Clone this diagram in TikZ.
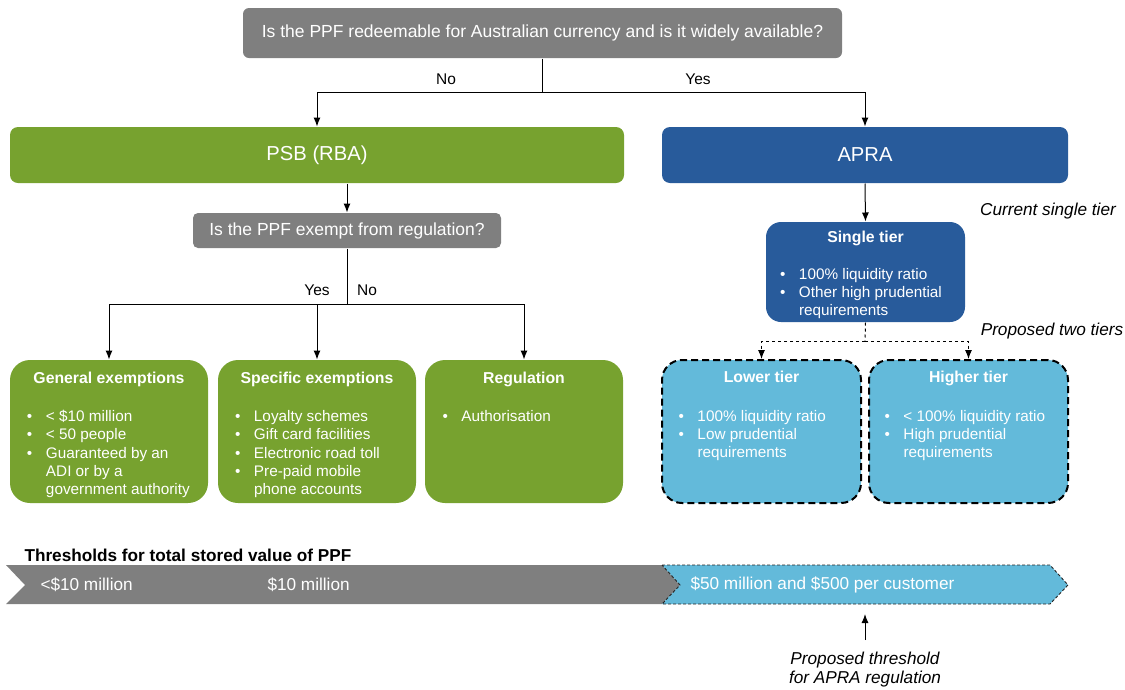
\documentclass[tikz,border=0pt]{standalone}
\usepackage{fontspec}
\setmainfont{Liberation Sans}
\usetikzlibrary{arrows.meta}

\definecolor{ppfgrey}{HTML}{7F7F7F}
\definecolor{ppfgreen}{HTML}{77A22F}
\definecolor{ppfblue}{HTML}{285B9B}
\definecolor{ppflight}{HTML}{63BADA}

% bullet and hanging indent for the lists (the rule fixes the height of a first line)
\newcommand\bul{\rule{0pt}{12.5pt}\makebox[19pt][l]{\textbullet}}
\newcommand\cont{\hspace*{19pt}}

\tikzset{
  box/.style={rounded corners=8pt, inner sep=0pt, text=white},
  qbox/.style={box, fill=ppfgrey, rounded corners=6pt, font=\fontsize{17.5}{21}\selectfont},
  bigbox/.style={box, minimum height=56pt, font=\fontsize{20.2}{24}\selectfont},
  card/.style={box, rounded corners=20pt, minimum width=198pt, minimum height=143pt},
  tiercard/.style={card, fill=ppflight, draw=black, line width=2pt, dash pattern=on 7pt off 4pt},
  head/.style={inner sep=0pt, text=white, anchor=base, font=\bfseries\fontsize{15.8}{18.3}\selectfont},
  list/.style={inner sep=0pt, text=white, anchor=north west, align=left, font=\fontsize{15.3}{18.3}\selectfont},
  lbl/.style={inner sep=0pt, font=\fontsize{15.5}{18}\selectfont},
  note/.style={inner sep=0pt, align=center, font=\itshape\fontsize{17.2}{19}\selectfont},
  bartext/.style={inner sep=0pt, text=white, anchor=west, font=\fontsize{17.2}{20}\selectfont}
}

\begin{document}
\begin{tikzpicture}[x=1pt, y=-1pt, line width=1pt, >={Latex[length=9pt,width=7pt]}]
  \useasboundingbox (0,0) rectangle (1125,689);

  % first question and the two regulators
  \node[qbox, minimum width=599pt, minimum height=50pt] (redeem) at (542.5,33)
      {Is the PPF redeemable for Australian currency and is it widely available?};
  \node[bigbox, fill=ppfgreen, minimum width=614pt] (psb) at (317,155) {PSB (RBA)};
  \node[bigbox, fill=ppfblue, minimum width=406pt] (apra) at (865,155) {APRA};

  \coordinate (fork1) at (542.5,92);
  \draw (redeem.south) -- (fork1);
  \draw[->] (fork1) -| (psb.north);
  \draw[->] (fork1) -| (apra.north);
  \node[lbl] (no1) at (446,79) {No};
  \node[lbl] (yes1) at (698,79) {Yes};

  % PSB side
  \node[qbox, rounded corners=5pt, minimum width=308pt, minimum height=35pt] (exempt) at (347,230.5)
      {Is the PPF exempt from regulation?};
  \draw[->] (psb.south -| exempt.north) -- (exempt.north);

  \node[card, fill=ppfgreen] (gen) at (109,431.5) {};
  \node[card, fill=ppfgreen] (spec) at (317,431.5) {};
  \node[card, fill=ppfgreen] (reg) at (524,431.5) {};

  \coordinate (fork2) at (347,304);
  \draw (exempt.south) -- (fork2);
  \foreach \b in {gen, spec, reg}
    \draw[->] (fork2) -| (\b.north);
  \node[lbl] (yes2) at (317,290) {Yes};
  \node[lbl] (no2) at (367,290) {No};

  \node[head] (genh) at ([yshift=-23.5pt]gen.north) {General exemptions};
  \node[list] (genl) at ([xshift=17pt,yshift=-49pt]gen.north west)
      {\bul < \$10 million\\ \bul < 50 people\\ \bul Guaranteed by an\\ \cont ADI or by a\\ \cont government authority};
  \node[head] (spech) at ([yshift=-23.5pt]spec.north) {Specific exemptions};
  \node[list] (specl) at ([xshift=17pt,yshift=-49pt]spec.north west)
      {\bul Loyalty schemes\\ \bul Gift card facilities\\ \bul Electronic road toll\\ \bul Pre-paid mobile\\ \cont phone accounts};
  \node[head] (regh) at ([yshift=-23.5pt]reg.north) {Regulation};
  \node[list] (regl) at ([xshift=17.5pt,yshift=-49pt]reg.north west) {\bul Authorisation};

  % APRA side
  \node[box, fill=ppfblue, rounded corners=15pt, minimum width=199pt, minimum height=100pt] (single) at (865.5,272) {};
  \draw[->] (apra.south) -- (single.north);
  \node[head] (singleh) at ([yshift=-20.5pt]single.north) {Single tier};
  \node[list] (singlel) at ([xshift=14pt,yshift=-44.5pt]single.north west)
      {\bul 100\% liquidity ratio\\ \bul Other high prudential\\ \cont requirements};
  \node[note] (current) at (1048,211) {Current single tier};

  \node[tiercard, minimum width=199pt] (lower) at (761.5,431.5) {};
  \node[tiercard, minimum width=199pt] (higher) at (968.5,431.5) {};
  \coordinate (fork3) at (865,341);
  \draw[dashed] (single.south) -- (fork3);
  \draw[dashed, ->] (fork3) -| (lower.north);
  \draw[dashed, ->] (fork3) -| (higher.north);
  \node[note] (proposed) at (1052,331) {Proposed two tiers};

  \node[head] (lowerh) at ([yshift=-23.5pt]lower.north) {Lower tier};
  \node[list] (lowerl) at ([xshift=17pt,yshift=-49pt]lower.north west)
      {\bul 100\% liquidity ratio\\ \bul Low prudential\\ \cont requirements};
  \node[head] (higherh) at ([yshift=-23.5pt]higher.north) {Higher tier};
  \node[list] (higherl) at ([xshift=16pt,yshift=-49pt]higher.north west)
      {\bul < 100\% liquidity ratio\\ \bul High prudential\\ \cont requirements};

  % stored value bar
  \node[inner sep=0pt, anchor=west, font=\bfseries\fontsize{17.2}{20}\selectfont] (bartitle) at (24,555)
      {Thresholds for total stored value of PPF};
  \fill[ppfgrey] (6,565) -- (662,565) -- (680,585) -- (662,604) -- (6,604) -- (25,585) -- cycle;
  \filldraw[fill=ppflight, draw=black!85, line width=0.9pt, dash pattern=on 3pt off 2pt]
    (662,565) -- (1050,565) -- (1068,585) -- (1050,604) -- (662,604) -- (680,585) -- cycle;
  \node[bartext] (below10) at (40,585) {<\$10 million};
  \node[bartext] (at10) at (267,585) {\$10 million};
  \node[bartext] (at50) at (690,585) {\$50 million and \$500 per customer};

  \coordinate (thrfoot) at (865,640);
  \coordinate (thrtip) at (865,614);
  \draw[->] (thrfoot) -- (thrtip);
  \node[note] (threshold) at (865,669.5) {Proposed threshold\\for APRA regulation};
\end{tikzpicture}
\end{document}
